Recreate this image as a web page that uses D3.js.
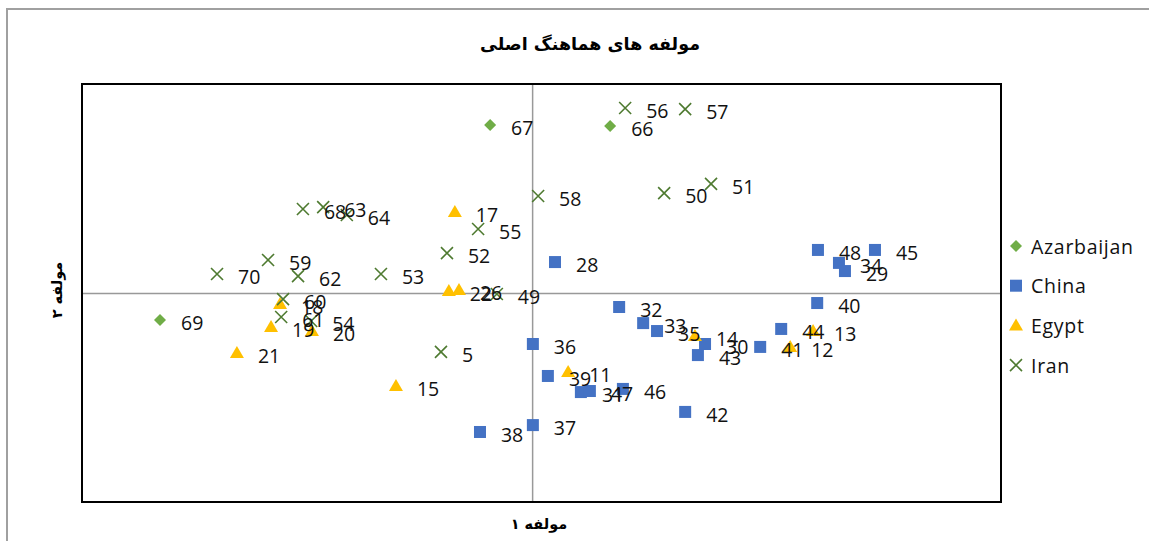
<!DOCTYPE html>
<html>
<head>
<meta charset="utf-8">
<script src="https://cdn.jsdelivr.net/npm/d3@7"></script>
<style>
  body { margin: 0; background: #fff; }
  svg { display: block; }
</style>
</head>
<body>
<svg id="chart" width="1149" height="541"></svg>
<script>
// ---- Data ----
const seriesNames = ["Azarbaijan", "China", "Egypt", "Iran"];

const azarbaijanLabels = ["67", "66", "69"];
const azarbaijanX = [-0.112, 0.208, -0.992];
const azarbaijanY = [0.804, 0.799, -0.129];

const chinaLabels = ["28", "48", "45", "34", "29", "40", "32", "33", "35", "30", "43", "41", "44", "36", "39", "31", "47", "46", "42", "37", "38"];
const chinaX = [0.061, 0.762, 0.914, 0.818, 0.834, 0.760, 0.232, 0.296, 0.333, 0.461, 0.442, 0.608, 0.664, 0.002, 0.042, 0.130, 0.154, 0.242, 0.408, 0.002, -0.139];
const chinaY = [0.148, 0.206, 0.206, 0.144, 0.105, -0.048, -0.067, -0.144, -0.182, -0.244, -0.297, -0.258, -0.172, -0.244, -0.397, -0.474, -0.469, -0.459, -0.569, -0.632, -0.665];

const egyptLabels = ["17", "22", "26", "18", "19", "20", "21", "15", "14", "11", "12", "13"];
const egyptX = [-0.206, -0.222, -0.195, -0.672, -0.696, -0.587, -0.787, -0.363, 0.434, 0.096, 0.688, 0.749];
const egyptY = [0.388, 0.010, 0.014, -0.053, -0.163, -0.182, -0.287, -0.445, -0.206, -0.378, -0.258, -0.182];

const iranLabels = ["56", "57", "51", "50", "58", "68", "63", "64", "55", "52", "59", "70", "62", "53", "49", "60", "61", "54", "5"];
const iranX = [0.248, 0.408, 0.477, 0.352, 0.016, -0.611, -0.557, -0.494, -0.144, -0.227, -0.704, -0.840, -0.624, -0.403, -0.094, -0.664, -0.669, -0.589, -0.243];
const iranY = [0.885, 0.880, 0.522, 0.478, 0.464, 0.402, 0.411, 0.373, 0.306, 0.191, 0.158, 0.091, 0.081, 0.091, -0.005, -0.029, -0.115, -0.134, -0.282];

const titleText = "مولفه های هماهنگ اصلی";
const xTitle = "مولفه ۱";
const yTitle = "مولفه ۲";

// ---- Build series ----
function build(labels, xs, ys) { return labels.map((l, i) => ({ label: l, x: xs[i], y: ys[i] })); }
const series = [
  { name: seriesNames[0], shape: "diamond", color: "#70AD47", data: build(azarbaijanLabels, azarbaijanX, azarbaijanY) },
  { name: seriesNames[1], shape: "square",  color: "#4472C4", data: build(chinaLabels, chinaX, chinaY) },
  { name: seriesNames[2], shape: "triangle",color: "#FFC000", data: build(egyptLabels, egyptX, egyptY) },
  { name: seriesNames[3], shape: "cross",   color: "#4E7A30", data: build(iranLabels, iranX, iranY) }
];

// ---- Layout ----
const svg = d3.select("#chart");
const plot = { left: 82, top: 84, right: 1001, bottom: 502 };
const x = d3.scaleLinear().domain([-1.2, 1.25]).range([plot.left, plot.right]);
const y = d3.scaleLinear().domain([-1, 1]).range([plot.bottom, plot.top]);

// outer chart frame
svg.append("path")
  .attr("d", "M7,541 L7,9 L1149,9")
  .attr("fill", "none").attr("stroke", "#a0a0a0").attr("stroke-width", 2);

// title
svg.append("text")
  .attr("x", 590).attr("y", 50)
  .attr("text-anchor", "middle")
  .attr("font-family", "DejaVu Sans").attr("font-weight", "bold").attr("font-size", 17.5)
  .attr("direction", "rtl")
  .text(titleText);

// zero axes (no ticks)
svg.append("g")
  .attr("transform", `translate(0,${y(0)})`)
  .call(d3.axisBottom(x).tickValues([]).tickSizeOuter(0))
  .call(g => g.select(".domain").attr("stroke", "#999").attr("stroke-width", 1.5));
svg.append("g")
  .attr("transform", `translate(${x(0)},0)`)
  .call(d3.axisLeft(y).tickValues([]).tickSizeOuter(0))
  .call(g => g.select(".domain").attr("stroke", "#999").attr("stroke-width", 1.5));

// plot border
svg.append("rect")
  .attr("x", plot.left).attr("y", plot.top)
  .attr("width", plot.right - plot.left).attr("height", plot.bottom - plot.top)
  .attr("fill", "none").attr("stroke", "#000").attr("stroke-width", 2);

// axis titles
svg.append("text")
  .attr("x", 539).attr("y", 529)
  .attr("text-anchor", "middle")
  .attr("font-family", "DejaVu Sans").attr("font-weight", "bold").attr("font-size", 14.5)
  .text(xTitle);
svg.append("text")
  .attr("transform", "translate(62,290) rotate(-90)")
  .attr("text-anchor", "middle")
  .attr("font-family", "DejaVu Sans").attr("font-weight", "bold").attr("font-size", 14.5)
  .text(yTitle);

// marker drawing
function drawMarker(g, shape, color, cx, cy) {
  if (shape === "diamond") {
    g.append("path").attr("d", `M${cx},${cy-6} L${cx+6},${cy} L${cx},${cy+6} L${cx-6},${cy} Z`).attr("fill", color);
  } else if (shape === "square") {
    g.append("rect").attr("x", cx-6).attr("y", cy-6).attr("width", 12).attr("height", 12).attr("fill", color);
  } else if (shape === "triangle") {
    g.append("path").attr("d", `M${cx},${cy-7} L${cx+7},${cy+5} L${cx-7},${cy+5} Z`).attr("fill", color);
  } else {
    g.append("path").attr("d", `M${cx-6},${cy-6} L${cx+6},${cy+6} M${cx+6},${cy-6} L${cx-6},${cy+6}`)
      .attr("stroke", color).attr("stroke-width", 1.6).attr("fill", "none");
  }
}

const marks = svg.append("g");
series.forEach(s => {
  s.data.forEach(d => drawMarker(marks, s.shape, s.color, x(d.x), y(d.y)));
});
const labels = svg.append("g")
  .attr("font-family", "Open Sans").attr("font-size", 19.5).attr("fill", "#111");
series.forEach(s => {
  s.data.forEach(d => {
    labels.append("text")
      .attr("x", x(d.x) + 21).attr("y", y(d.y) + 10)
      .text(d.label);
  });
});

// legend
const legend = svg.append("g");
series.forEach((s, i) => {
  const ly = 246 + i * 39.7;
  drawMarker(legend, s.shape, s.color, 1016, ly);
  legend.append("text")
    .attr("x", 1031).attr("y", ly + 7.5)
    .attr("font-family", "Open Sans").attr("font-size", 19.5).attr("letter-spacing", 0.7).attr("fill", "#111")
    .text(s.name);
});
</script>
</body>
</html>
